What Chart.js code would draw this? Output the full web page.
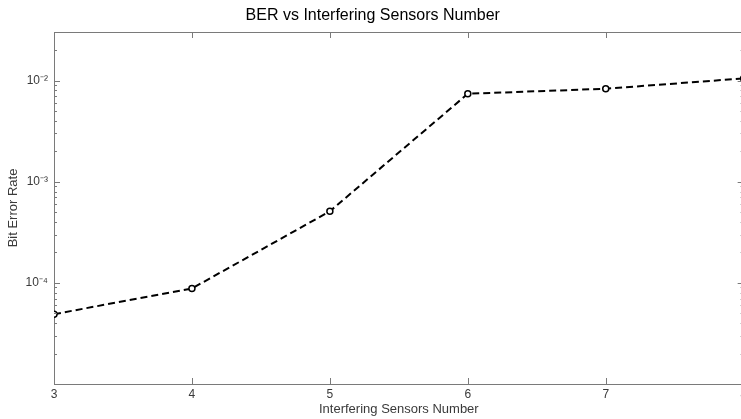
<!DOCTYPE html>
<html>
<head>
<meta charset="utf-8">
<script src="https://cdn.jsdelivr.net/npm/chart.js@4.4.1/dist/chart.umd.min.js"></script>
<style>
  html, body { margin: 0; padding: 0; background: #ffffff; overflow: hidden; width: 741px; height: 419px; }
  #wrap { width: 741px; height: 419px; overflow: hidden; position: relative; }
  #c { display: block; position: absolute; left: 0; top: 0; width: 750px; height: 419px; }
</style>
</head>
<body>
<div id="wrap"><canvas id="c" width="750" height="419"></canvas></div>
<script>
// ---- data ----
const sensorsNumber = [3, 4, 5, 6, 7, 8];
const bitErrorRate = [4.9e-5, 8.8e-5, 5.1e-4, 7.4e-3, 8.3e-3, 1.05e-2];

// x axis ticks
const xTicks = [3, 4, 5, 6, 7, 8];
// y axis: labelled decades and their labels
const yMajorTicks = [1e-4, 1e-3, 1e-2];
const yMajorLabels = ['10\u207B\u2074', '10\u207B\u00B3', '10\u207B\u00B2'];
// minor tick multipliers inside each decade
const yMinorMultipliers = [2, 3, 4, 5, 6, 7, 8, 9];
const yDecades = [1e-5, 1e-4, 1e-3, 1e-2];

const titleText = 'BER vs Interfering Sensors Number';
const xTitle = 'Interfering Sensors Number';
const yTitle = 'Bit Error Rate';

const yMin = 1e-5, yMax = 0.0302;

// build tick list for the log axis
const yTickValues = [];
yDecades.forEach(d => {
  yTickValues.push(d);
  yMinorMultipliers.forEach(m => {
    const v = parseFloat((d * m).toPrecision(3));
    if (v <= yMax) yTickValues.push(v);
  });
});

const FONT = "'Liberation Sans', Arial, sans-serif";
const AXIS_COLOR = '#7a7a7a';
const TEXT_COLOR = '#3a3a3a';

function isMajor(v) {
  return yMajorTicks.some(m => Math.abs(m - v) / m < 1e-6);
}

const inwardTicks = {
  id: 'inwardTicks',
  afterDraw(chart) {
    const ctx = chart.ctx;
    const area = chart.chartArea;
    const xs = chart.scales.x, ys = chart.scales.y;
    ctx.save();
    ctx.strokeStyle = AXIS_COLOR;
    ctx.lineWidth = 1;
    ctx.beginPath();
    xs.ticks.forEach(t => {
      const px = Math.round(xs.getPixelForValue(t.value)) + 0.5;
      ctx.moveTo(px, area.bottom);
      ctx.lineTo(px, area.bottom - 6);
      ctx.moveTo(px, area.top);
      ctx.lineTo(px, area.top + 6);
    });
    ys.ticks.forEach(t => {
      const py = Math.round(ys.getPixelForValue(t.value)) + 0.5;
      const len = isMajor(t.value) ? 6 : 3;
      ctx.moveTo(area.left, py);
      ctx.lineTo(area.left + len, py);
      ctx.moveTo(area.right, py);
      ctx.lineTo(area.right - len, py);
    });
    ctx.stroke();
    ctx.restore();
  }
};

new Chart(document.getElementById('c'), {
  type: 'line',
  data: {
    datasets: [{
      data: sensorsNumber.map((x, i) => ({ x: x, y: bitErrorRate[i] })),
      borderColor: '#000000',
      borderWidth: 2,
      borderDash: [7, 4],
      tension: 0,
      fill: false,
      pointRadius: 3,
      pointBorderWidth: 1.5,
      pointBorderColor: '#000000',
      pointBackgroundColor: '#ffffff',
      pointHoverRadius: 3
    }]
  },
  options: {
    responsive: false,
    animation: false,
    devicePixelRatio: 1,
    layout: { padding: { left: 0, right: 4.5, top: 0, bottom: 0 } },
    plugins: {
      legend: { display: false },
      tooltip: { enabled: false },
      title: {
        display: true,
        text: titleText,
        color: '#000000',
        font: { family: FONT, size: 16, weight: 'normal', lineHeight: 1.2 },
        padding: { top: 6, bottom: 6.8 }
      }
    },
    scales: {
      x: {
        type: 'linear',
        position: 'bottom',
        min: 3,
        max: 8,
        afterBuildTicks(scale) { scale.ticks = xTicks.map(v => ({ value: v })); },
        afterFit(scale) { scale.height = 35; },
        grid: { display: false, drawTicks: false },
        border: { display: true, color: AXIS_COLOR, width: 1 },
        ticks: {
          color: TEXT_COLOR,
          font: { family: FONT, size: 12 },
          padding: 3,
          maxRotation: 0,
          autoSkip: false,
          callback: v => String(v)
        },
        title: {
          display: true,
          text: xTitle,
          color: TEXT_COLOR,
          font: { family: FONT, size: 13 },
          padding: { top: 0, bottom: 2 }
        }
      },
      xTop: {
        type: 'linear',
        position: 'top',
        min: 3,
        max: 8,
        afterFit(scale) { scale.height = 0; },
        grid: { display: false, drawTicks: false },
        border: { display: true, color: AXIS_COLOR, width: 1 },
        ticks: { display: false }
      },
      y: {
        type: 'logarithmic',
        position: 'left',
        min: yMin,
        max: yMax,
        afterBuildTicks(scale) { scale.ticks = yTickValues.map(v => ({ value: v, major: isMajor(v) })); },
        afterFit(scale) { scale.width = 54; },
        grid: { display: false, drawTicks: false },
        border: { display: true, color: AXIS_COLOR, width: 1 },
        ticks: {
          color: TEXT_COLOR,
          font: { family: FONT, size: 12 },
          padding: 6,
          autoSkip: false,
          callback: function (v) {
            const i = yMajorTicks.findIndex(m => Math.abs(m - v) / m < 1e-6);
            return i >= 0 ? yMajorLabels[i] : '';
          }
        },
        title: {
          display: true,
          text: yTitle,
          color: TEXT_COLOR,
          font: { family: FONT, size: 13 },
          padding: { top: 6, bottom: 0 }
        }
      }
    }
  },
  plugins: [inwardTicks]
});
</script>
</body>
</html>
